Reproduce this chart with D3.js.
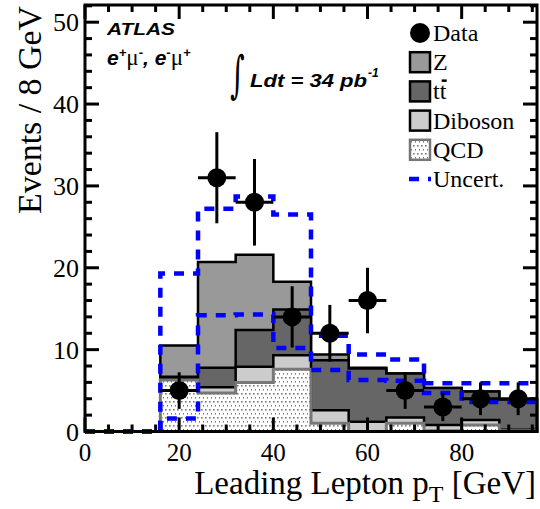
<!DOCTYPE html>
<html><head><meta charset="utf-8">
<script src="https://cdn.jsdelivr.net/npm/d3@7"></script>
<style>body{margin:0;background:#fff}svg{display:block}</style>
</head><body>
<svg id="c" width="540" height="509"></svg>
<script>
const binLow = [16, 24, 32, 40, 48, 56, 64, 72, 80, 88];
const binWidth = 8;
const qcd     = [6.3, 4.7, 6.0, 7.6, 1.0, 0.0, 1.0, 0.1, 0.8, 0.1];
const diboson = [0.1, 0.7, 1.9, 1.7, 1.6, 1.2, 0.7, 0.7, 0.6, 0.1];
const ttbar   = [0.3, 2.4, 4.5, 5.6, 6.1, 6.5, 5.4, 4.5, 3.5, 3.7];
const zjets   = [3.8, 12.9, 9.2, 3.4, 0.7, 0.1, 0.0, 0.0, 0.0, 0.0];
const dataCounts = [5, 31, 28, 14, 12, 16, 5, 3, 4, 4];
const uncUp   = [19.3, 27.2, 28.7, 26.5, 11.7, 9.4, 8.8, 5.9, 5.9, 5.9];
const uncDown = [1.6, 14.2, 14.3, 10.2, 7.5, 6.3, 6.2, 4.7, 3.6, 3.6];
const xTicks = [0, 20, 40, 60, 80];
const yTicks = [0, 10, 20, 30, 40, 50];
const legendLabels = ["Data", "Z", "tt", "Diboson", "QCD", "Uncert."];

const svg = d3.select("#c");
const L = 85, R = 537, T = 5, B = 431.5;
const x = d3.scaleLinear().domain([0, 96]).range([L, R]);
const y = d3.scaleLinear().domain([0, 52.1]).range([B, T]);

const defs = svg.append("defs");
const pat = defs.append("pattern").attr("id", "dots").attr("patternUnits", "userSpaceOnUse")
  .attr("width", 4).attr("height", 8);
pat.append("rect").attr("width", 4).attr("height", 8).attr("fill", "#fff");
pat.append("rect").attr("x", 1).attr("y", 1).attr("width", 1.6).attr("height", 1.6).attr("fill", "#7a7a7a");
pat.append("rect").attr("x", 3).attr("y", 5).attr("width", 1.6).attr("height", 1.6).attr("fill", "#7a7a7a");

// cumulative stacks
const cum = [];
let run = binLow.map(() => 0);
[qcd, diboson, ttbar, zjets].forEach(s => { run = run.map((v, i) => v + s[i]); cum.push(run.slice()); });
const stackStyles = [
  {fill: "url(#dots)", stroke: "#777", sw: 3},
  {fill: "#cccccc", stroke: "#000", sw: 2.5},
  {fill: "#666666", stroke: "#000", sw: 2.5},
  {fill: "#999999", stroke: "#000", sw: 2.5}
];
const stepPts = vals => {
  const p = binLow.map((b, i) => [b, vals[i]]);
  p.push([binLow[binLow.length - 1] + binWidth, vals[vals.length - 1]]);
  return p;
};
const area = d3.area().x(d => x(d[0])).y0(y(0)).y1(d => y(d[1])).curve(d3.curveStepAfter);
for (let k = 3; k >= 0; k--) {
  svg.append("path").attr("d", area(stepPts(cum[k])))
    .attr("fill", stackStyles[k].fill).attr("stroke", stackStyles[k].stroke)
    .attr("stroke-width", stackStyles[k].sw);
}

// uncertainty band
const line = d3.line().x(d => x(d[0])).y(d => y(d[1])).curve(d3.curveStepAfter);
[uncUp, uncDown].forEach(u => {
  const p = [[0, 0]].concat(stepPts(u));
  svg.append("path").attr("d", line(p)).attr("fill", "none").attr("stroke", "#0000ff")
    .attr("stroke-width", 4.5).attr("stroke-dasharray", "10,9");
});

// frame & ticks
const g = svg.append("g");
g.append("rect").attr("x", L).attr("y", T).attr("width", R - L).attr("height", B - T)
  .attr("fill", "none").attr("stroke", "#000").attr("stroke-width", 3);
const tk = (x1, y1, x2, y2) => g.append("line").attr("x1", x1).attr("y1", y1).attr("x2", x2).attr("y2", y2)
  .attr("stroke", "#000").attr("stroke-width", 3);
d3.range(0, 97, 5).forEach(v => {
  const len = v % 20 === 0 ? 14 : 7;
  tk(x(v), B, x(v), B - len); tk(x(v), T, x(v), T + len);
});
d3.range(0, 52.2, 2).forEach(v => {
  const len = v % 10 === 0 ? 14 : 7;
  tk(L, y(v), L + len, y(v)); tk(R, y(v), R - len, y(v));
});
const serif = "'Liberation Serif', 'Times New Roman', serif";
svg.append("g").selectAll("text").data(xTicks).join("text")
  .attr("x", d => x(d)).attr("y", 461).attr("text-anchor", "middle")
  .attr("font-family", serif).attr("font-size", 25).text(d => d);
svg.append("g").selectAll("text").data(yTicks).join("text")
  .attr("x", 79).attr("y", d => y(d) + 9).attr("text-anchor", "end")
  .attr("font-family", serif).attr("font-size", 26).text(d => d);

// axis titles
svg.append("text").attr("transform", "translate(41,6) rotate(-90)").attr("text-anchor", "end")
  .attr("font-family", serif).attr("font-size", 34).attr("textLength", 208).attr("lengthAdjust", "spacingAndGlyphs")
  .text("Events / 8 GeV");
const xt = svg.append("text").attr("x", 536).attr("y", 494).attr("text-anchor", "end")
  .attr("font-family", serif).attr("font-size", 33);
xt.append("tspan").text("Leading Lepton p");
xt.append("tspan").attr("font-size", 24).attr("dy", 8).text("T");
xt.append("tspan").attr("dy", -8).text(" [GeV]");

// data points
const pts = svg.append("g");
dataCounts.forEach((n, i) => {
  const cx = binLow[i] + binWidth / 2, e = Math.sqrt(n);
  pts.append("line").attr("x1", x(cx)).attr("x2", x(cx)).attr("y1", y(n - e)).attr("y2", y(n + e))
    .attr("stroke", "#000").attr("stroke-width", 3);
  pts.append("line").attr("x1", x(binLow[i])).attr("x2", x(binLow[i] + binWidth)).attr("y1", y(n)).attr("y2", y(n))
    .attr("stroke", "#000").attr("stroke-width", 3);
  pts.append("circle").attr("cx", x(cx)).attr("cy", y(n)).attr("r", 9.5).attr("fill", "#000");
});

// labels
const sans = "'Liberation Sans', Arial, Helvetica, sans-serif";
svg.append("text").attr("x", 107).attr("y", 35).attr("font-family", sans).attr("font-weight", "bold")
  .attr("font-style", "italic").attr("font-size", 17).attr("textLength", 68).attr("lengthAdjust", "spacingAndGlyphs").text("ATLAS");
const ch = svg.append("text").attr("x", 107).attr("y", 65).attr("font-family", sans).attr("font-weight", "bold")
  .attr("font-style", "italic").attr("font-size", 21);
ch.append("tspan").text("e");
ch.append("tspan").attr("font-size", 13).attr("dy", -8).text("+");
ch.append("tspan").attr("dy", 8).attr("font-weight", "normal").attr("font-style", "normal").attr("font-family", serif).attr("font-size", 23).text("μ");
ch.append("tspan").attr("font-size", 13).attr("dy", -8).text("-");
ch.append("tspan").attr("dy", 8).text(", e");
ch.append("tspan").attr("font-size", 13).attr("dy", -8).text("-");
ch.append("tspan").attr("dy", 8).attr("font-weight", "normal").attr("font-style", "normal").attr("font-family", serif).attr("font-size", 23).text("μ");
ch.append("tspan").attr("font-size", 13).attr("dy", -8).text("+");

svg.append("text").attr("transform", "translate(230,92) scale(1,1.8)").attr("font-family", "'DejaVu Serif', serif")
  .attr("font-size", 28).text("∫");
svg.append("text").attr("x", 250).attr("y", 87).attr("font-family", sans).attr("font-weight", "bold")
  .attr("font-style", "italic").attr("font-size", 18).attr("textLength", 117).attr("lengthAdjust", "spacingAndGlyphs")
  .text("Ldt = 34 pb");
svg.append("text").attr("x", 368).attr("y", 77).attr("font-family", sans).attr("font-weight", "bold")
  .attr("font-style", "italic").attr("font-size", 12).text("-1");

// legend
const lg = svg.append("g");
const rowY = i => 33 + i * 29.2;
legendLabels.forEach((lab, i) => {
  const t = lg.append("text").attr("x", 433).attr("y", rowY(i) + 8).attr("font-family", serif)
    .attr("font-size", 24).text(lab);
  if (lab === "tt") {
    const w = t.node().getComputedTextLength();
    lg.append("rect").attr("x", 433 + w / 2 + 2).attr("y", rowY(i) - 12).attr("width", 5).attr("height", 2.5).attr("fill", "#000");
  }
});
lg.append("circle").attr("cx", 420).attr("cy", rowY(0)).attr("r", 10).attr("fill", "#000");
[3, 2, 1, 0].forEach((k, j) => {
  lg.append("rect").attr("x", 410).attr("y", rowY(j + 1) - 10).attr("width", 20).attr("height", 20)
    .attr("fill", stackStyles[k].fill).attr("stroke", stackStyles[k].stroke).attr("stroke-width", 2.5);
});
lg.append("line").attr("x1", 409).attr("x2", 431).attr("y1", rowY(5)).attr("y2", rowY(5))
  .attr("stroke", "#0000ff").attr("stroke-width", 4.5).attr("stroke-dasharray", "10,9");
</script>
</body></html>
